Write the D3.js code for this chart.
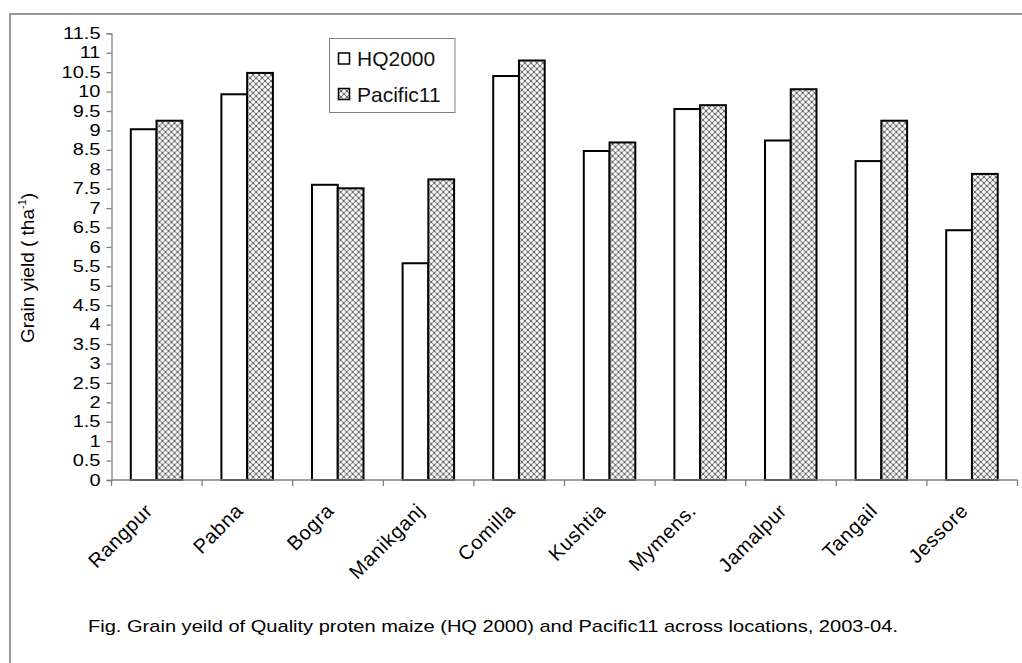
<!DOCTYPE html>
<html>
<head>
<meta charset="utf-8">
<script src="https://cdn.jsdelivr.net/npm/d3@7"></script>
<style>
  body { margin: 0; background: #fff; }
  svg { display: block; font-family: "Liberation Sans", Arial, sans-serif; }
</style>
</head>
<body>
<svg id="chart" width="1022" height="663"></svg>
<script>
const categories = ["Rangpur", "Pabna", "Bogra", "Manikganj", "Comilla", "Kushtia", "Mymens.", "Jamalpur", "Tangail", "Jessore"];
const hq2000 = [9.03, 9.93, 7.6, 5.58, 10.4, 8.47, 9.55, 8.74, 8.21, 6.43];
const pacific11 = [9.25, 10.48, 7.51, 7.74, 10.8, 8.69, 9.65, 10.06, 9.25, 7.88];
const seriesNames = ["HQ2000", "Pacific11"];
const yTicks = [0, 0.5, 1, 1.5, 2, 2.5, 3, 3.5, 4, 4.5, 5, 5.5, 6, 6.5, 7, 7.5, 8, 8.5, 9, 9.5, 10, 10.5, 11, 11.5];
const yTitle = "Grain yield ( tha";
const caption = "Fig. Grain yeild of Quality proten maize (HQ 2000) and Pacific11 across locations, 2003-04.";

const plot = { left: 111.5, right: 1017.5, top: 33.3, bottom: 480 };
const axisColor = "#808080";

const svg = d3.select("#chart");

// crosshatch pattern used for Pacific11
const defs = svg.append("defs");
const pat = defs.append("pattern")
  .attr("id", "hatch")
  .attr("patternUnits", "userSpaceOnUse")
  .attr("width", 6)
  .attr("height", 6);
pat.append("rect").attr("width", 6).attr("height", 6).attr("fill", "#fff");
pat.append("path")
  .attr("d", "M0,0L6,6M6,0L0,6")
  .attr("stroke", "#8a8a8a")
  .attr("stroke-width", 1.1);
[[2.5, 2.5], [-0.5, -0.5], [5.5, 5.5], [5.5, -0.5], [-0.5, 5.5]].forEach(p => {
  pat.append("rect").attr("x", p[0]).attr("y", p[1]).attr("width", 1).attr("height", 1).attr("fill", "#000");
});

const fills = ["#fff", "url(#hatch)"];

// outer frame (top and left edges visible)
svg.append("path")
  .attr("d", "M10,663V14H1022")
  .attr("fill", "none")
  .attr("stroke", "#777")
  .attr("stroke-width", 1.5);

const x0 = d3.scaleBand()
  .domain(categories)
  .range([plot.left, plot.right])
  .padding(0);

const x1 = d3.scaleBand()
  .domain(seriesNames)
  .range([19.3, 70.8]);

const y = d3.scaleLinear()
  .domain([0, 11.5])
  .range([plot.bottom, plot.top]);

// y axis
const yAxis = svg.append("g")
  .attr("transform", `translate(${plot.left},0)`)
  .call(d3.axisLeft(y).tickValues(yTicks).tickFormat(d3.format("")).tickSize(5).tickPadding(6));
yAxis.selectAll("path, line").attr("stroke", axisColor).attr("stroke-width", 1.3);
yAxis.selectAll("text")
  .attr("fill", "#000")
  .attr("font-size", 16)
  .attr("font-family", "'Liberation Sans', Arial, sans-serif")
  .attr("x", -11 / 1.25)
  .attr("transform", "scale(1.25,1)");

// grouped bars
const rows = categories.map((c, i) => ({ cat: c, vals: [hq2000[i], pacific11[i]] }));

const groups = svg.append("g")
  .selectAll("g")
  .data(rows)
  .join("g")
  .attr("transform", d => `translate(${x0(d.cat)},0)`);

groups.selectAll("rect")
  .data(d => d.vals.map((v, k) => ({ key: seriesNames[k], v, k })))
  .join("rect")
  .attr("x", d => x1(d.key))
  .attr("y", d => y(d.v))
  .attr("width", x1.bandwidth())
  .attr("height", d => y(0) - y(d.v))
  .attr("fill", d => fills[d.k])
  .attr("stroke", "#000")
  .attr("stroke-width", 2);

// x axis: line plus boundary ticks
const xAxis = svg.append("g");
xAxis.append("line")
  .attr("x1", plot.left).attr("x2", plot.right)
  .attr("y1", y(0)).attr("y2", y(0))
  .attr("stroke", axisColor).attr("stroke-width", 1.3);
xAxis.selectAll("line.tick")
  .data(categories.map(c => x0(c)).concat([x0(categories[categories.length - 1]) + x0.bandwidth()]))
  .join("line")
  .attr("class", "tick")
  .attr("x1", d => d).attr("x2", d => d)
  .attr("y1", y(0)).attr("y2", y(0) + 6)
  .attr("stroke", axisColor).attr("stroke-width", 1.3);

xAxis.selectAll("text")
  .data(categories)
  .join("text")
  .attr("transform", d => `translate(${x0(d) + x0.bandwidth() / 2 - 3},${y(0) + 32}) rotate(-45)`)
  .attr("text-anchor", "end")
  .attr("font-size", 20)
  .attr("letter-spacing", 0.6)
  .attr("fill", "#000")
  .text(d => d);

// y axis title
const yt = svg.append("text")
  .attr("transform", "translate(34,268) rotate(-90)")
  .attr("text-anchor", "middle")
  .attr("font-size", 19)
  .attr("fill", "#000");
yt.append("tspan").text(yTitle);
yt.append("tspan").attr("font-size", 11).attr("dy", -8).text("-1");
yt.append("tspan").attr("dy", 8).text(")");

// legend
const legend = svg.append("g");
legend.append("rect")
  .attr("x", 329.5).attr("y", 38.5)
  .attr("width", 125.5).attr("height", 74)
  .attr("fill", "#fff")
  .attr("stroke", "#808080")
  .attr("stroke-width", 1);
const legendY = [58.5, 94];
const li = legend.selectAll("g.item")
  .data(seriesNames)
  .join("g")
  .attr("class", "item")
  .attr("transform", (d, i) => `translate(338,${legendY[i]})`);
li.append("rect")
  .attr("x", 0.5).attr("y", -5.5)
  .attr("width", 11).attr("height", 11)
  .attr("fill", (d, i) => fills[i])
  .attr("stroke", "#000")
  .attr("stroke-width", 1.5);
li.append("text")
  .attr("x", 19)
  .attr("y", 7.5)
  .attr("font-size", 21)
  .attr("fill", "#111")
  .text(d => d);

// caption
svg.append("text")
  .attr("x", 88)
  .attr("y", 632)
  .attr("font-size", 17)
  .attr("textLength", 810)
  .attr("lengthAdjust", "spacingAndGlyphs")
  .attr("fill", "#000")
  .text(caption);
</script>
</body>
</html>
